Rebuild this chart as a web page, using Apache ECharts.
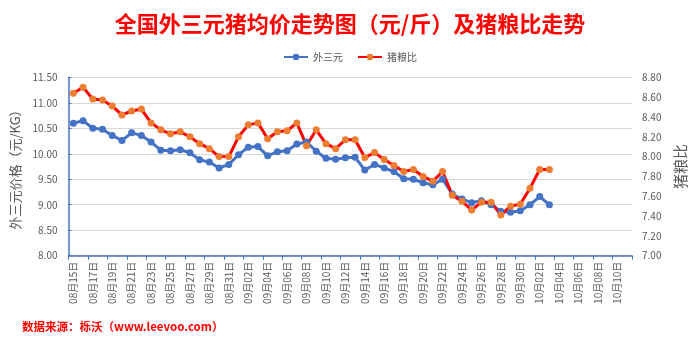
<!DOCTYPE html>
<html>
<head>
<meta charset="utf-8">
<script src="https://cdn.jsdelivr.net/npm/echarts@6/dist/echarts.min.js"></script>
<style>
  html, body { margin: 0; padding: 0; background: #fff; }
  #chart { width: 700px; height: 342px; }
</style>
</head>
<body>
<div id="chart"></div>
<script>
// Daily categories, 15 Aug – 11 Oct
const categories = [
  '08月15日','08月16日','08月17日','08月18日','08月19日','08月20日','08月21日','08月22日',
  '08月23日','08月24日','08月25日','08月26日','08月27日','08月28日','08月29日','08月30日','08月31日',
  '09月01日','09月02日','09月03日','09月04日','09月05日','09月06日','09月07日','09月08日',
  '09月09日','09月10日','09月11日','09月12日','09月13日','09月14日','09月15日','09月16日',
  '09月17日','09月18日','09月19日','09月20日','09月21日','09月22日','09月23日','09月24日',
  '09月25日','09月26日','09月27日','09月28日','09月29日','09月30日',
  '10月01日','10月02日','10月03日','10月04日','10月05日','10月06日','10月07日','10月08日',
  '10月09日','10月10日','10月11日'
];

// 外三元 average price (元/KG), left axis
const pigPrice = [
  10.60, 10.65, 10.50, 10.48, 10.36, 10.26, 10.41, 10.36, 10.23, 10.07,
  10.06, 10.08, 10.02, 9.88, 9.84, 9.72, 9.79, 9.98, 10.13, 10.14,
  9.96, 10.04, 10.06, 10.19, 10.23, 10.05, 9.91, 9.89, 9.92, 9.93,
  9.68, 9.79, 9.72, 9.65, 9.51, 9.50, 9.43, 9.39, 9.50, 9.21,
  9.11, 9.04, 9.08, 9.00, 8.87, 8.85, 8.88, 9.00, 9.16, 9.00
];

// 猪粮比 (hog-to-grain ratio), right axis
const hogGrainRatio = [
  8.64, 8.70, 8.58, 8.57, 8.51, 8.42, 8.46, 8.48, 8.34, 8.27,
  8.23, 8.25, 8.20, 8.13, 8.08, 8.00, 8.00, 8.20, 8.32, 8.34,
  8.18, 8.25, 8.26, 8.34, 8.11, 8.27, 8.13, 8.08, 8.17, 8.17,
  7.99, 8.04, 7.97, 7.91, 7.85, 7.87, 7.80, 7.75, 7.85, 7.61,
  7.55, 7.46, 7.54, 7.54, 7.41, 7.50, 7.52, 7.68, 7.87, 7.87
];

const FONT = '"Noto Sans CJK SC", "Liberation Sans", sans-serif';
const GRAY = '#595959';
const BLUE = '#4472C4';

const chart = echarts.init(document.getElementById('chart'), null, { renderer: 'canvas' });

chart.setOption({
  animation: false,
  backgroundColor: '#ffffff',
  textStyle: { fontFamily: FONT },
  title: {
    text: '全国外三元猪均价走势图（元/斤）及猪粮比走势',
    left: 'center',
    top: 8,
    textStyle: { color: '#ff0000', fontSize: 22, fontWeight: 'bold', fontFamily: FONT }
  },
  graphic: [{
    type: 'text',
    left: 22,
    top: 321,
    style: {
      text: '数据来源：栎沃（www.leevoo.com）',
      fill: '#ff0000',
      font: 'bold 11.5px ' + FONT
    }
  }],
  legend: {
    top: 47,
    left: 'center',
    itemWidth: 24,
    itemHeight: 8,
    itemGap: 14,
    textStyle: { color: GRAY, fontSize: 10, fontFamily: FONT },
    data: ['外三元', '猪粮比']
  },
  grid: { left: 68.5, right: 68, top: 77.3, bottom: 86.3, containLabel: false },
  xAxis: {
    type: 'category',
    data: categories,
    boundaryGap: true,
    axisLine: { show: true, lineStyle: { color: BLUE, width: 1.5 } },
    axisTick: { show: true, interval: 1, length: 4, lineStyle: { color: BLUE, width: 1 } },
    axisLabel: {
      interval: 1,
      rotate: 90,
      margin: 6,
      color: GRAY,
      fontSize: 10,
      fontFamily: FONT
    },
    splitLine: { show: false }
  },
  yAxis: [
    {
      type: 'value',
      min: 8.0,
      max: 11.5,
      interval: 0.5,
      position: 'left',
      name: '外三元价格（元/KG）',
      nameLocation: 'middle',
      nameRotate: 90,
      nameGap: 34,
      nameTextStyle: { color: GRAY, fontSize: 13, fontFamily: FONT },
      axisLine: { show: true, lineStyle: { color: BLUE, width: 1.5 } },
      axisTick: { show: true, inside: true, length: 3, lineStyle: { color: BLUE } },
      axisLabel: {
        color: GRAY, fontSize: 10, margin: 11, fontFamily: FONT,
        formatter: v => v.toFixed(2)
      },
      splitLine: { show: true, lineStyle: { color: '#d9d9d9', width: 1.2 } }
    },
    {
      type: 'value',
      min: 7.0,
      max: 8.8,
      interval: 0.2,
      position: 'right',
      name: '猪粮比',
      nameLocation: 'middle',
      nameRotate: 90,
      nameGap: 32,
      nameTextStyle: { color: GRAY, fontSize: 15, fontFamily: FONT },
      axisLine: { show: false },
      axisTick: { show: false },
      axisLabel: {
        color: GRAY, fontSize: 10, margin: 10, fontFamily: FONT,
        formatter: v => v.toFixed(2)
      },
      splitLine: { show: false }
    }
  ],
  series: [
    {
      name: '外三元',
      type: 'line',
      yAxisIndex: 0,
      data: pigPrice,
      symbol: 'circle',
      symbolSize: 7,
      showAllSymbol: true,
      lineStyle: { color: BLUE, width: 3 },
      itemStyle: { color: BLUE }
    },
    {
      name: '猪粮比',
      type: 'line',
      yAxisIndex: 1,
      data: hogGrainRatio,
      symbol: 'circle',
      symbolSize: 7,
      showAllSymbol: true,
      lineStyle: { color: '#ff0000', width: 3 },
      itemStyle: { color: '#ED7D31' }
    }
  ]
});
</script>
</body>
</html>
